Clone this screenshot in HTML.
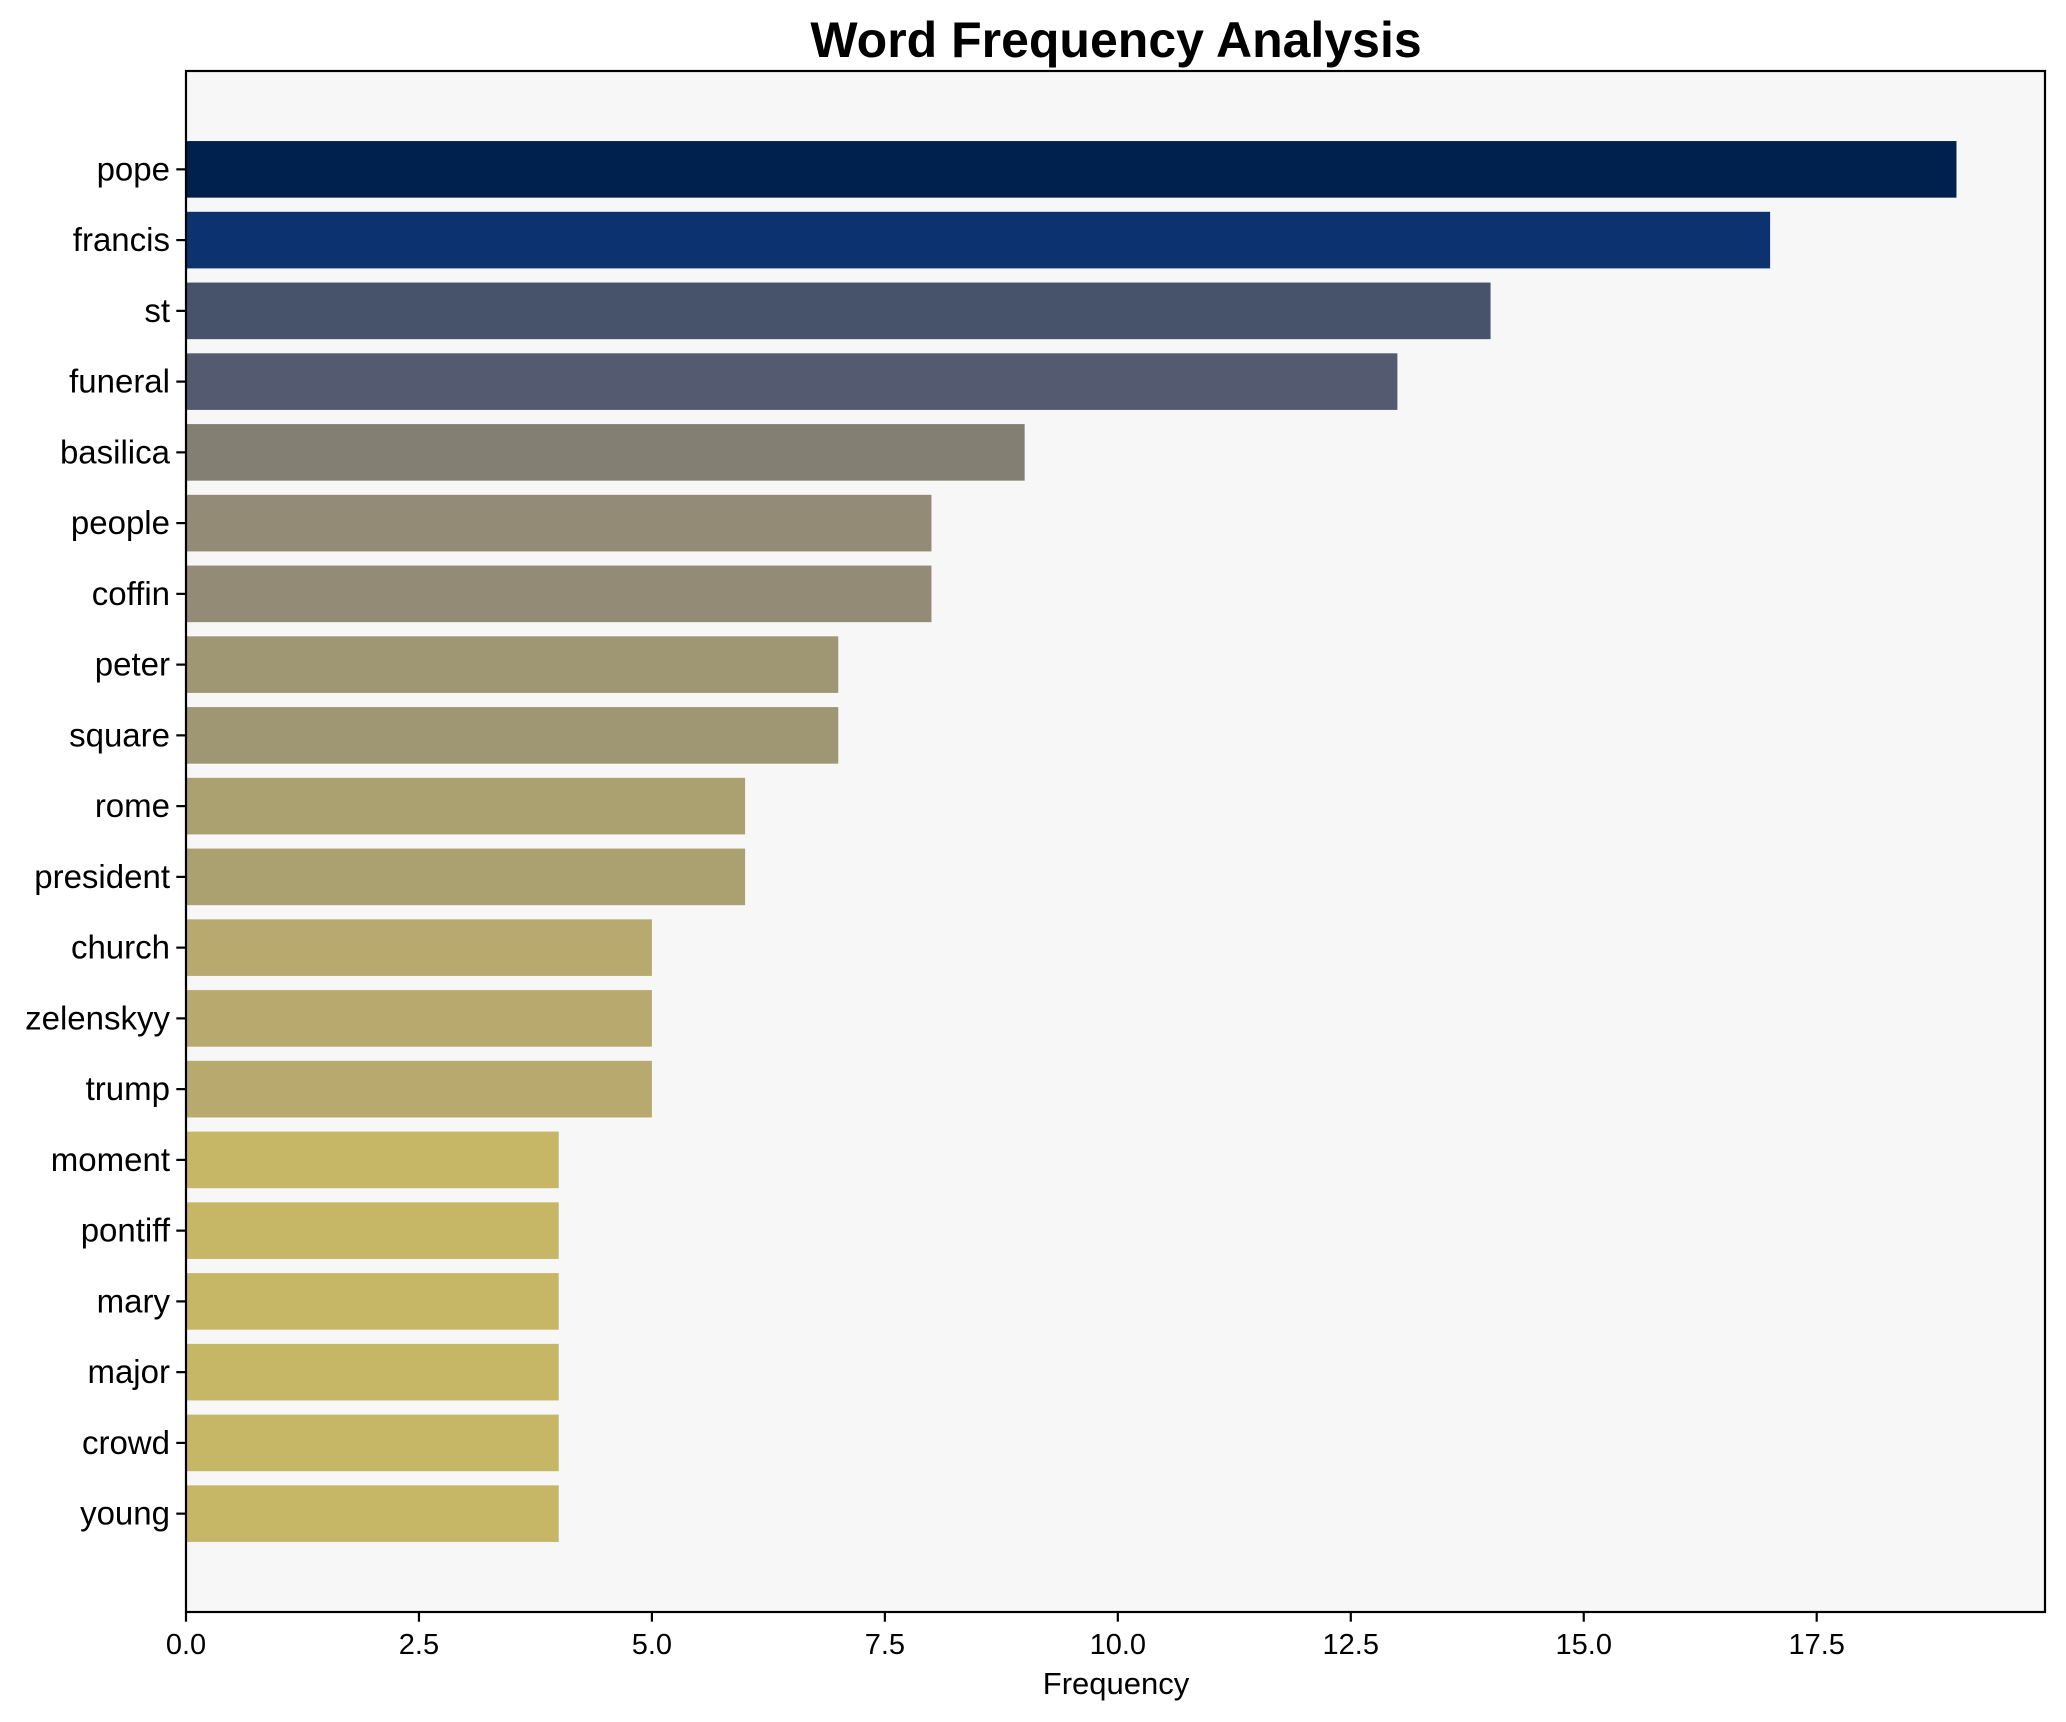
<!DOCTYPE html>
<html><head><meta charset="utf-8"><style>
html,body{margin:0;padding:0;background:#fff;}
svg{display:block;font-family:"Liberation Sans",Arial,sans-serif;}
</style></head><body>
<svg id="chart" width="2066" height="1722" viewBox="0 0 2066 1722" xmlns="http://www.w3.org/2000/svg">
<rect x="0" y="0" width="2066" height="1722" fill="#ffffff"/>
<text x="1116" y="57" text-anchor="middle" font-size="50" font-weight="bold" fill="#000">Word Frequency Analysis</text>
<rect x="186" y="71" width="1859" height="1541" fill="#f7f7f7"/>
<g id="bars"></g>
<g id="yticks"></g>
<g id="xticks"></g>
<rect x="186" y="71" width="1859" height="1541" fill="none" stroke="#000" stroke-width="2.2"/>
<text x="1116" y="1694" text-anchor="middle" font-size="31" fill="#000">Frequency</text>
</svg>
<script>
const words = ["pope","francis","st","funeral","basilica","people","coffin","peter","square","rome","president","church","zelenskyy","trump","moment","pontiff","mary","major","crowd","young"];
const counts = [19,17,14,13,9,8,8,7,7,6,6,5,5,5,4,4,4,4,4,4];
const barColors = ["#00214d","#0d3270","#47526b","#545a6f","#847f73","#948b76","#948b76","#9f9774","#9f9774","#aaa070","#aaa070","#b8aa6e","#b8aa6e","#b8aa6e","#c6b767","#c6b767","#c6b767","#c6b767","#c6b767","#c6b767"];
const xTicks = [0,2.5,5,7.5,10,12.5,15,17.5];
const xTickLabels = ["0.0","2.5","5.0","7.5","10.0","12.5","15.0","17.5"];

const NS = "http://www.w3.org/2000/svg";
const L = 186, R = 2045, T = 71, B = 1612;
const xMax = Math.max(...counts) * 1.05;
const n = words.length;
const yMin = -0.4 - 0.05 * (n - 0.2), yMax = (n - 1) + 0.4 + 0.05 * (n - 0.2);
function xs(v){ return L + v / xMax * (R - L); }
function ys(i){ return T + (i - yMin) / (yMax - yMin) * (B - T); }
const unit = (B - T) / (yMax - yMin);

const gb = document.getElementById('bars');
const gy = document.getElementById('yticks');
const gx = document.getElementById('xticks');
function mk(tag, attrs){ const e = document.createElementNS(NS, tag); for (const k in attrs) e.setAttribute(k, attrs[k]); return e; }

words.forEach((w, i) => {
  const cy = ys(i);
  const r = mk('rect', {x: xs(0), y: cy - 0.4*unit, width: xs(counts[i]) - xs(0), height: 0.8*unit, fill: barColors[i]});
  
  
  gb.appendChild(r);
  const t = mk('line', {x1: L - 9.7, x2: L, y1: cy, y2: cy, stroke: '#000', 'stroke-width': 2.2});
  
  
  gy.appendChild(t);
  const lb = mk('text', {x: L - 16, y: cy + 11, 'text-anchor': 'end', 'font-size': 33, fill: '#000'});
  lb.textContent = w;
  
  
  gy.appendChild(lb);
});

xTicks.forEach((v, i) => {
  const x = xs(v);
  const t = mk('line', {x1: x, x2: x, y1: B, y2: B + 9.7, stroke: '#000', 'stroke-width': 2.2});
  
  
  gx.appendChild(t);
  const lb = mk('text', {x: x, y: 1654, 'text-anchor': 'middle', 'font-size': 29, fill: '#000'});
  lb.textContent = xTickLabels[i];
  
  
  gx.appendChild(lb);
});
</script>
</body></html>
